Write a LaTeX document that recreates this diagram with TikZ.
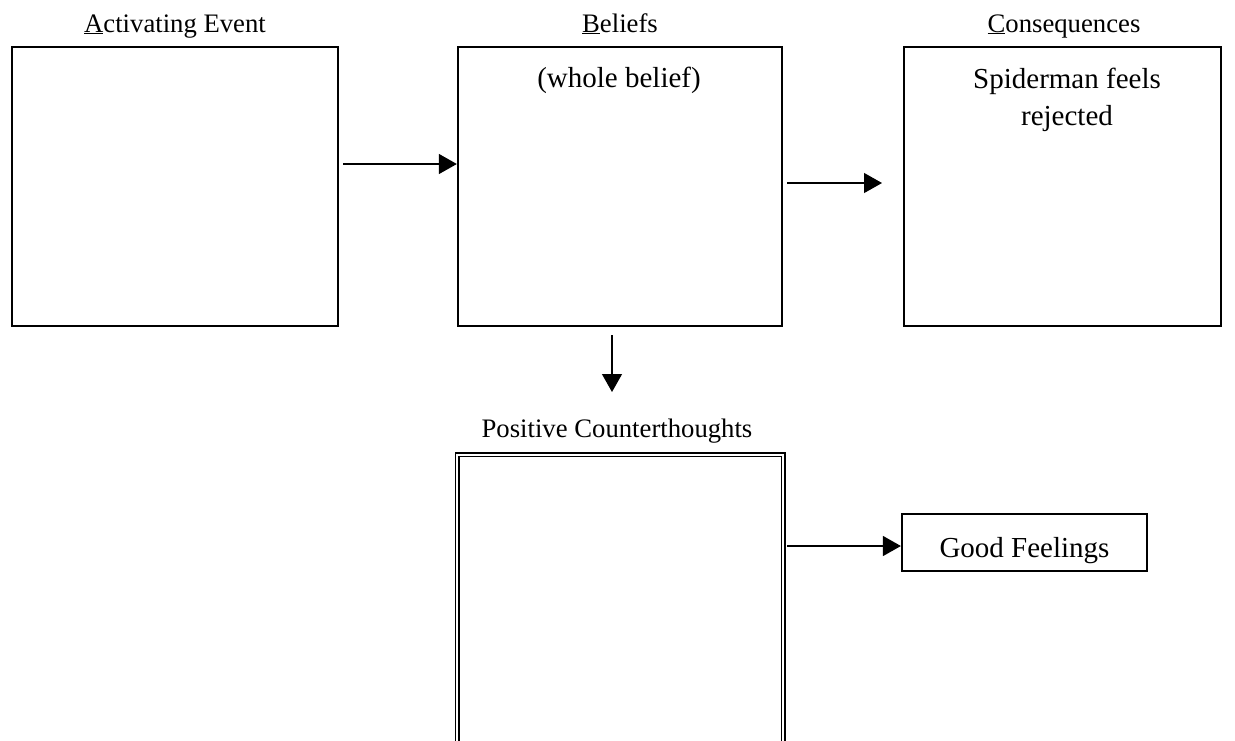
\documentclass[tikz,border=0pt]{standalone}
\usepackage{fontspec}
\setmainfont{Liberation Serif}
\usetikzlibrary{arrows.meta}
\begin{document}
\begin{tikzpicture}[x=1pt,y=-1pt,
  box/.style={draw, line width=2.3pt, rectangle, inner sep=0pt},
  heading/.style={anchor=base, inner sep=0pt, font=\fontsize{26.7}{32}\selectfont},
  boxtext/.style={anchor=base, inner sep=0pt, align=center, font=\fontsize{29}{37}\selectfont},
  arr/.style={line width=1.3pt, -{Triangle[length=18pt,width=20pt]}}]
\useasboundingbox (0,0) rectangle (1235,740);
\clip (0,0) rectangle (1235,740);

% headings
\node[heading] (ha) at (175,32) {\underline{A}ctivating Event};
\node[heading] (hb) at (620,32) {\underline{B}eliefs};
\node[heading] (hc) at (1064,32) {\underline{C}onsequences};
\node[heading] (hp) at (617,437) {Positive Counterthoughts};

% A-B-C boxes
\node[box, minimum width=326pt, minimum height=279pt] (A) at (175,186.5) {};
\node[box, minimum width=324pt, minimum height=279pt] (B) at (620,186.5) {};
\node[box, minimum width=317pt, minimum height=279pt] (C) at (1062.5,186.5) {};
\node[boxtext] (bt) at (619,87) {(whole belief)};
\node[boxtext] (ct1) at (1067,88) {Spiderman feels};
\node[boxtext] (ct2) at (1067,125) {rejected};

% positive counterthoughts box (double frame, runs off the bottom)
\node[draw, double, line width=1.4pt, double distance=2.2pt, rectangle, inner sep=0pt,
      minimum width=326pt, minimum height=346pt, anchor=north] (P) at (620,454) {};

% good feelings box
\node[draw, line width=2.2pt, rectangle, inner sep=0pt, minimum width=245pt,
      minimum height=57pt] (G) at (1024.5,542.5) {};
\node[boxtext] (gt) at (1024.5,557) {Good Feelings};

% connector end points
\coordinate (a1) at (343,164);
\coordinate (b1) at (787,183);
\coordinate (b2) at (882,183);
\coordinate (d1) at (612,335);
\coordinate (d2) at (612,392);
\coordinate (p1) at (787,546);

\draw[arr] (a1) -- (B.west |- a1);
\draw[arr] (b1) -- (b2);
\draw[arr] (d1) -- (d2);
\draw[arr] (p1) -- (G.west |- p1);
\end{tikzpicture}
\end{document}
